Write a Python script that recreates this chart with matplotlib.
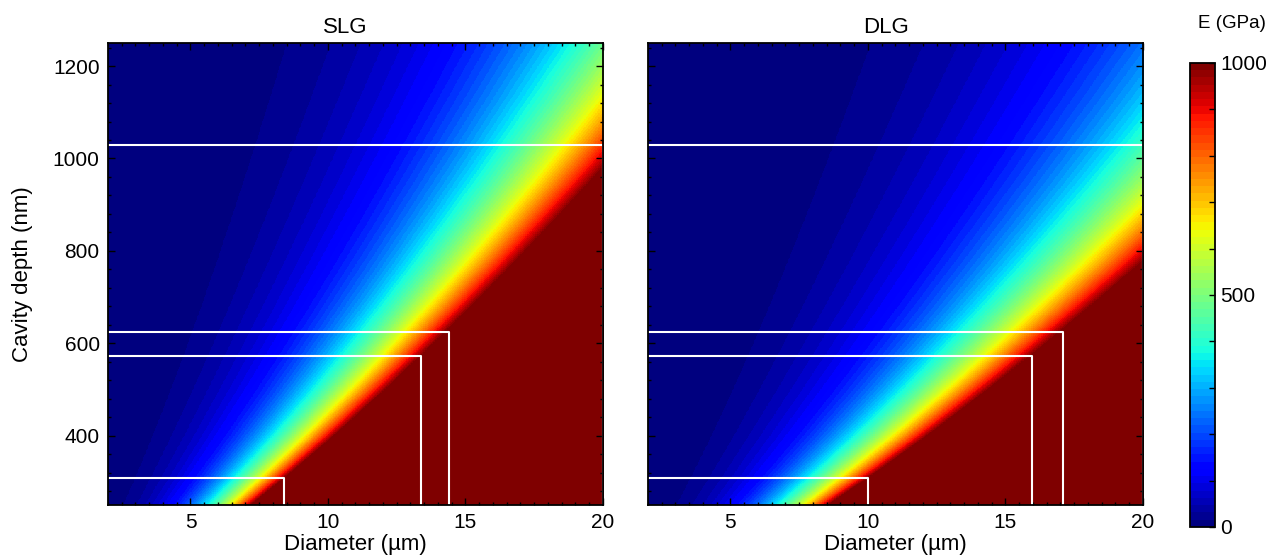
import numpy as np
import matplotlib
matplotlib.use("Agg")
import matplotlib.pyplot as plt
from matplotlib.ticker import MultipleLocator

plt.rcParams['font.family'] = ['Liberation Sans', 'DejaVu Sans']
plt.rcParams['font.size'] = 15

# panels and number of graphene layers
panels = ["SLG", "DLG"]
layers = [1, 2]

# E = k * D^4 / (layers * h^3), k (GPa nm^3 / um^4)
k_coef = 5.86e6
diam_range = [2, 20]      # um
depth_range = [250, 1250]  # nm

# white boxes: cavity depth (nm) and diameter (um) of each corner
box_depths = {"SLG": [1030, 625, 572, 308], "DLG": [1030, 625, 572, 308]}
box_diams = {"SLG": [20, 14.4, 13.4, 8.4], "DLG": [20, 17.1, 15.95, 10.0]}

cbar_ticks = [0, 500, 1000]

cmap = plt.get_cmap('jet', 64)

fig = plt.figure(figsize=(12.66, 5.58), dpi=100)
ax_pos = [[0.0853, 0.095, 0.391, 0.828], [0.5118, 0.095, 0.391, 0.828]]

D = np.linspace(diam_range[0], diam_range[1], 700)
H = np.linspace(depth_range[0], depth_range[1], 700)
DD, HH = np.meshgrid(D, H)

for i, name in enumerate(panels):
    ax = fig.add_axes(ax_pos[i])
    E = k_coef * DD ** 4 / (layers[i] * HH ** 3)
    im = ax.imshow(E, origin='lower', aspect='auto', cmap=cmap, vmin=0, vmax=1000,
                   extent=[diam_range[0], diam_range[1], depth_range[0], depth_range[1]],
                   interpolation='nearest')
    for h, d in zip(box_depths[name], box_diams[name]):
        ax.plot([diam_range[0], d, d], [h, h, depth_range[0]], color='white', lw=1.5)
    ax.set_xlim(diam_range)
    ax.set_ylim(depth_range)
    ax.set_xticks([5, 10, 15, 20])
    ax.set_yticks([400, 600, 800, 1000, 1200])
    ax.xaxis.set_minor_locator(MultipleLocator(0.5))
    ax.yaxis.set_minor_locator(MultipleLocator(40))
    ax.tick_params(which='both', direction='in', top=True, right=True, width=1.0)
    ax.tick_params(which='major', length=5, pad=6)
    ax.tick_params(which='minor', length=2.5)
    for s in ax.spines.values():
        s.set_linewidth(1.3)
    ax.set_title(name, fontsize=16, pad=7, x=0.48)
    ax.set_xlabel("Diameter (µm)", fontsize=16, labelpad=1)
    if i == 0:
        ax.set_ylabel("Cavity depth (nm)", fontsize=16, labelpad=14)
    else:
        ax.set_yticklabels([])

cax = fig.add_axes([0.940, 0.0556, 0.0197, 0.8315])
cb = fig.colorbar(im, cax=cax)
cb.set_ticks(cbar_ticks)
cb.ax.yaxis.set_minor_locator(MultipleLocator(100))
cb.ax.tick_params(which='both', direction='in', length=4, width=1.0, pad=4)
cb.outline.set_linewidth(1.3)
fig.text(0.973, 0.958, "E (GPa)", ha='center', va='center', fontsize=13.5)

fig.savefig("out.png", dpi=100)
